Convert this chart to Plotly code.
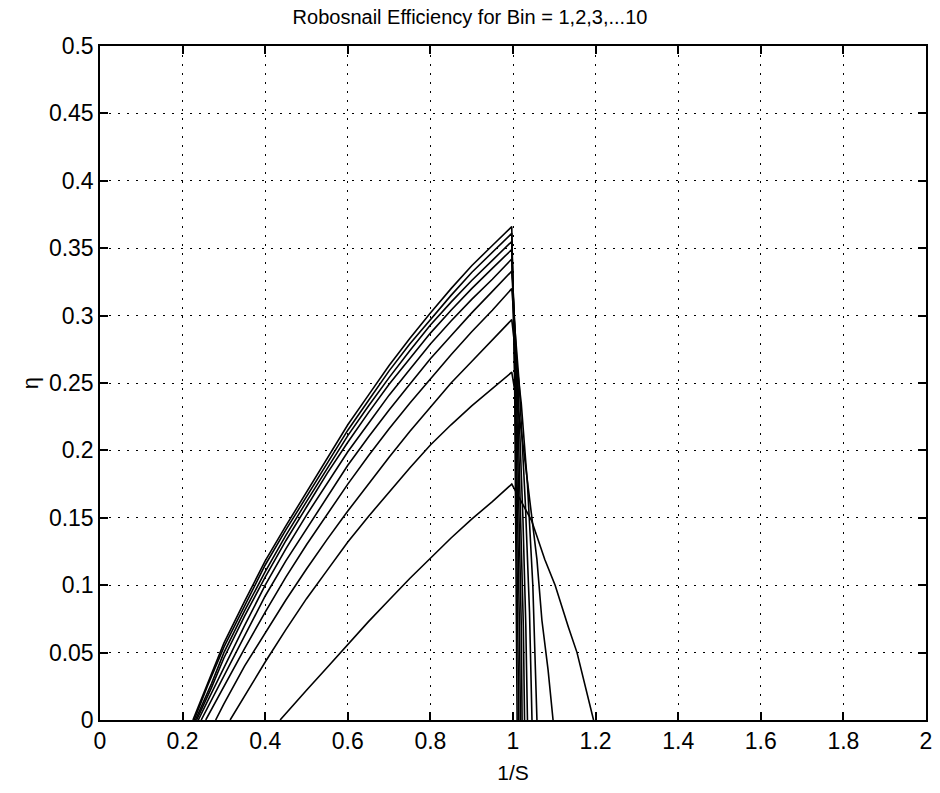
import plotly.graph_objects as go

# 1/S values and efficiency eta for Bin = 1..10
bin1_x = [0.436, 0.47, 0.5, 0.55, 0.6, 0.65, 0.7, 0.75, 0.8, 0.85, 0.9, 0.95, 0.997,
          1.02, 1.045, 1.077, 1.102, 1.134, 1.155, 1.195]
bin1_y = [0.0, 0.012, 0.022, 0.039, 0.056, 0.073, 0.089, 0.105, 0.12, 0.135, 0.149, 0.162, 0.175,
          0.162, 0.148, 0.119, 0.1, 0.069, 0.05, 0.0]

bin2_x = [0.315, 0.35, 0.4, 0.45, 0.5, 0.55, 0.6, 0.65, 0.7, 0.75, 0.8, 0.85, 0.9, 0.95, 0.997,
          1.02, 1.04, 1.058, 1.07, 1.085, 1.097]
bin2_y = [0.0, 0.018, 0.043, 0.067, 0.09, 0.111, 0.132, 0.151, 0.169, 0.187, 0.204, 0.219, 0.233, 0.246, 0.258,
          0.215, 0.165, 0.119, 0.074, 0.037, 0.0]

bin3_x = [0.28, 0.3, 0.35, 0.4, 0.45, 0.5, 0.55, 0.6, 0.65, 0.7, 0.75, 0.8, 0.85, 0.9, 0.95, 0.997,
          1.02, 1.035, 1.048, 1.058]
bin3_y = [0.0, 0.012, 0.04, 0.065, 0.089, 0.112, 0.134, 0.155, 0.175, 0.195, 0.214, 0.232, 0.25, 0.266, 0.282, 0.297,
          0.235, 0.175, 0.1, 0.0]

bin4_x = [0.256, 0.3, 0.35, 0.4, 0.45, 0.5, 0.55, 0.6, 0.65, 0.7, 0.75, 0.8, 0.85, 0.9, 0.95, 0.997,
          1.015, 1.03, 1.04, 1.046]
bin4_y = [0.0, 0.025, 0.053, 0.08, 0.106, 0.13, 0.153, 0.175, 0.196, 0.216, 0.235, 0.253, 0.271, 0.288, 0.304, 0.32,
          0.25, 0.16, 0.08, 0.0]

bin5_x = [0.245, 0.3, 0.35, 0.4, 0.45, 0.5, 0.55, 0.6, 0.65, 0.7, 0.75, 0.8, 0.85, 0.9, 0.95, 0.997,
          1.012, 1.024, 1.031, 1.035]
bin5_y = [0.0, 0.033, 0.063, 0.092, 0.118, 0.142, 0.166, 0.189, 0.21, 0.23, 0.249, 0.268, 0.285, 0.302, 0.318, 0.333,
          0.25, 0.15, 0.07, 0.0]

bin6_x = [0.238, 0.27, 0.3, 0.35, 0.4, 0.45, 0.5, 0.55, 0.6, 0.65, 0.7, 0.75, 0.8, 0.85, 0.9, 0.95, 0.997,
          1.01, 1.02, 1.025, 1.028]
bin6_y = [0.0, 0.02, 0.04, 0.07, 0.1, 0.127, 0.152, 0.176, 0.199, 0.22, 0.241, 0.26, 0.279, 0.296, 0.312, 0.327, 0.342,
          0.25, 0.14, 0.07, 0.0]

bin7_x = [0.234, 0.27, 0.3, 0.35, 0.4, 0.45, 0.5, 0.55, 0.6, 0.65, 0.7, 0.75, 0.8, 0.85, 0.9, 0.95, 0.997,
          1.008, 1.016, 1.02, 1.022]
bin7_y = [0.0, 0.024, 0.046, 0.077, 0.106, 0.133, 0.158, 0.183, 0.206, 0.228, 0.249, 0.268, 0.287, 0.304, 0.32, 0.335, 0.349,
          0.25, 0.14, 0.07, 0.0]

bin8_x = [0.231, 0.27, 0.3, 0.35, 0.4, 0.45, 0.5, 0.55, 0.6, 0.65, 0.7, 0.75, 0.8, 0.85, 0.9, 0.95, 0.997,
          1.006, 1.013, 1.016, 1.018]
bin8_y = [0.0, 0.027, 0.05, 0.081, 0.11, 0.137, 0.162, 0.187, 0.211, 0.233, 0.254, 0.274, 0.293, 0.31, 0.326, 0.341, 0.355,
          0.25, 0.13, 0.06, 0.0]

bin9_x = [0.228, 0.26, 0.3, 0.35, 0.4, 0.45, 0.5, 0.55, 0.6, 0.65, 0.7, 0.75, 0.8, 0.85, 0.9, 0.95, 0.997,
          1.005, 1.01, 1.013, 1.014]
bin9_y = [0.0, 0.025, 0.054, 0.085, 0.115, 0.141, 0.166, 0.191, 0.215, 0.237, 0.259, 0.279, 0.297, 0.315, 0.332, 0.347, 0.361,
          0.25, 0.13, 0.06, 0.0]

bin10_x = [0.225, 0.26, 0.3, 0.35, 0.4, 0.45, 0.5, 0.55, 0.6, 0.65, 0.7, 0.75, 0.8, 0.85, 0.9, 0.95, 0.997,
           1.004, 1.008, 1.01]
bin10_y = [0.0, 0.027, 0.057, 0.088, 0.118, 0.144, 0.169, 0.194, 0.219, 0.241, 0.263, 0.283, 0.302, 0.32, 0.337, 0.352, 0.366,
           0.25, 0.12, 0.0]

series = [
    ("Bin 1", bin1_x, bin1_y), ("Bin 2", bin2_x, bin2_y), ("Bin 3", bin3_x, bin3_y),
    ("Bin 4", bin4_x, bin4_y), ("Bin 5", bin5_x, bin5_y), ("Bin 6", bin6_x, bin6_y),
    ("Bin 7", bin7_x, bin7_y), ("Bin 8", bin8_x, bin8_y), ("Bin 9", bin9_x, bin9_y),
    ("Bin 10", bin10_x, bin10_y),
]

x_ticks = [0, 0.2, 0.4, 0.6, 0.8, 1, 1.2, 1.4, 1.6, 1.8, 2]
x_tick_labels = ["0", "0.2", "0.4", "0.6", "0.8", "1", "1.2", "1.4", "1.6", "1.8", "2"]
y_ticks = [0, 0.05, 0.1, 0.15, 0.2, 0.25, 0.3, 0.35, 0.4, 0.45, 0.5]
y_tick_labels = ["0", "0.05", "0.1", "0.15", "0.2", "0.25", "0.3", "0.35", "0.4", "0.45", "0.5"]

fig = go.Figure()
for name, xs, ys in series:
    fig.add_trace(go.Scatter(x=xs, y=ys, mode="lines", name=name,
                             line=dict(color="black", width=1.6)))

font_family = "Liberation Sans, Arial, sans-serif"
axis_common = dict(
    showline=True, linecolor="black", linewidth=1.5, mirror="allticks",
    ticks="inside", ticklen=8, tickcolor="black", tickwidth=1.5,
    showgrid=True, gridcolor="black", gridwidth=1.4, griddash="2px,7px",
    zeroline=False, tickfont=dict(family=font_family, size=23, color="black"),
)

fig.update_layout(
    width=940, height=793,
    paper_bgcolor="white", plot_bgcolor="white",
    margin=dict(l=100, r=8, t=46, b=73),
    showlegend=False,
    title=dict(text="Robosnail Efficiency for Bin = 1,2,3,...10", x=0.5, xanchor="center",
               y=0.978, yanchor="middle",
               font=dict(family=font_family, size=20, color="black")),
    xaxis=dict(range=[0, 2], tickvals=x_ticks, ticktext=x_tick_labels,
               title=dict(text="1/S", font=dict(family=font_family, size=21, color="black"), standoff=12),
               **axis_common),
    yaxis=dict(range=[0, 0.5], tickvals=y_ticks, ticktext=y_tick_labels,
               title=dict(text="η", font=dict(family=font_family, size=22, color="black"), standoff=4),
               **axis_common),
)

fig.write_html("out.html")
